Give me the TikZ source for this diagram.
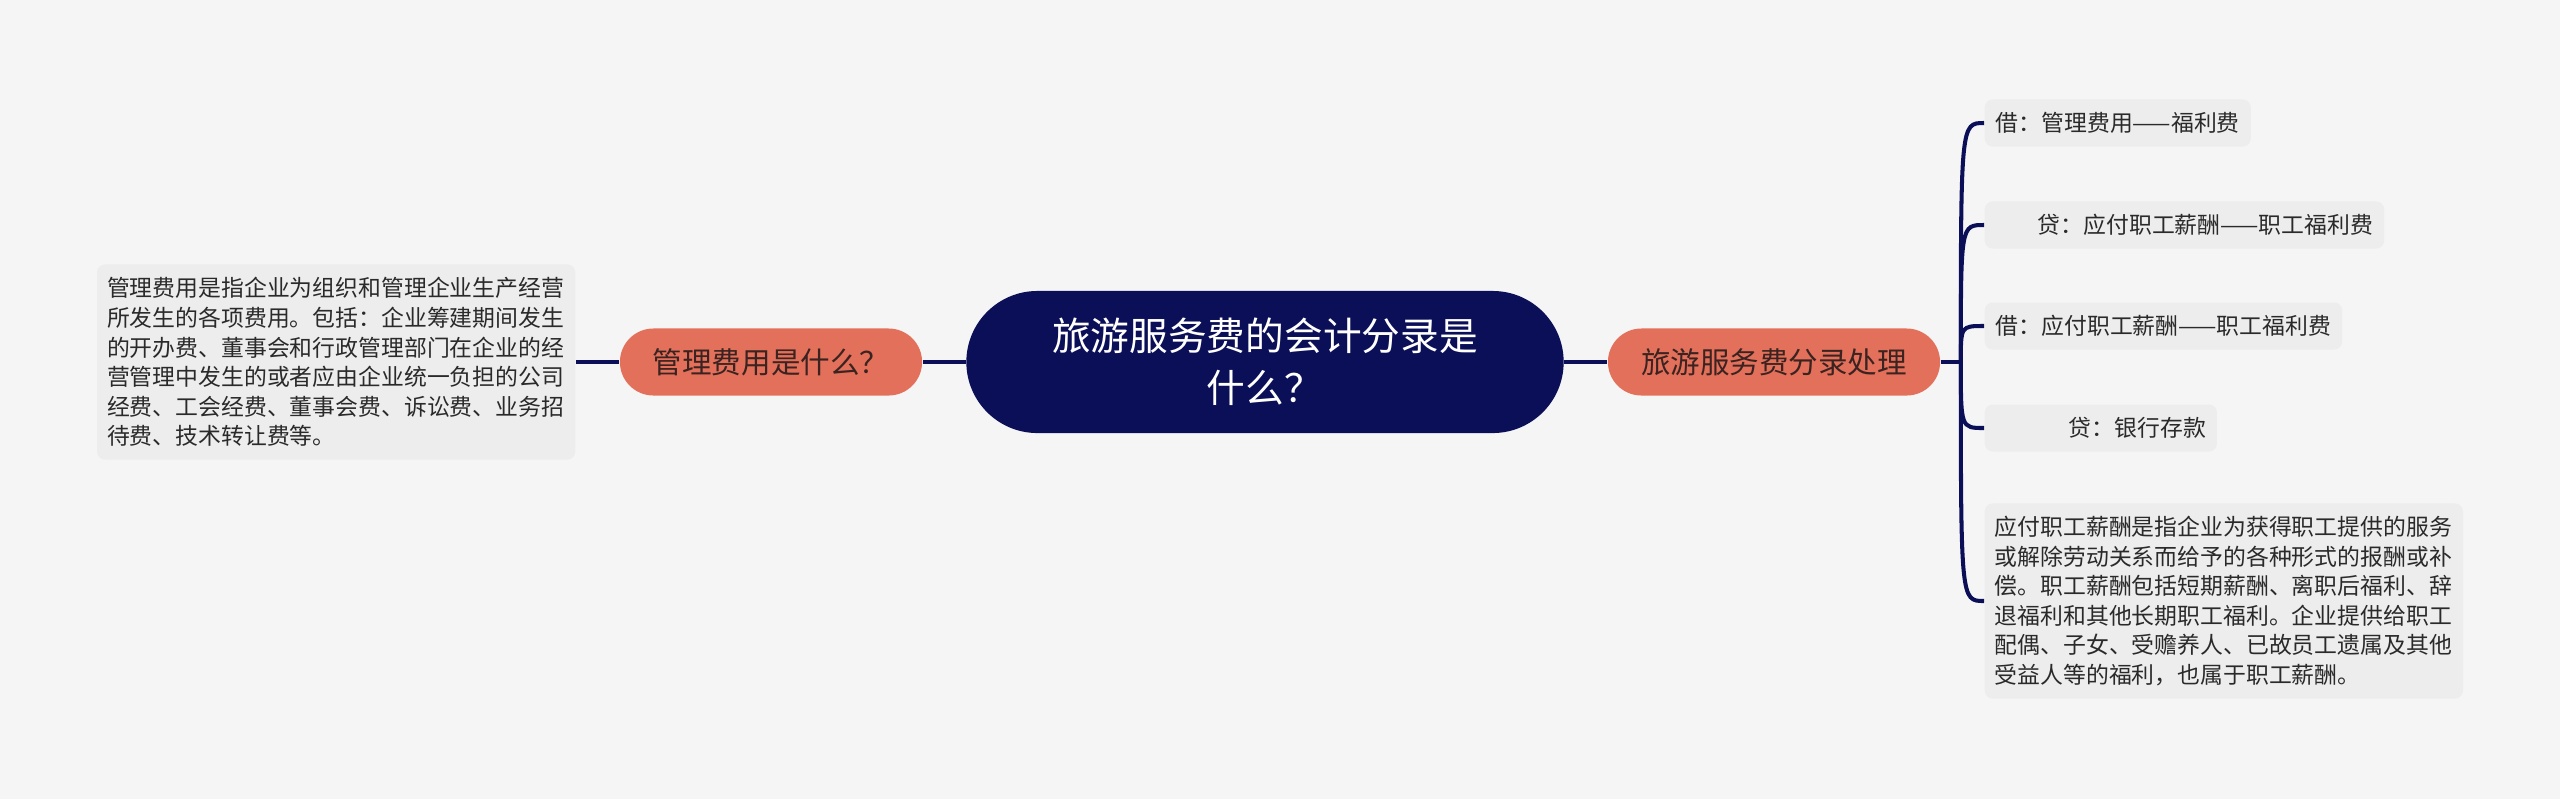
\documentclass[tikz,border=0pt]{standalone}
\usepackage{fontspec}
\setmainfont{Noto Sans CJK SC}
\usetikzlibrary{positioning,calc}
\definecolor{deepnavy}{HTML}{0A0F57}
\definecolor{salmon}{HTML}{E3705A}
\definecolor{paper}{HTML}{F5F5F5}
\definecolor{notegray}{HTML}{EDEDED}
\definecolor{inkgray}{HTML}{2A2A2A}
\definecolor{topicink}{HTML}{3A2320}
\tikzset{
  root/.style={fill=deepnavy,text=white,rounded corners=0.71cm,minimum width=5.97cm,minimum height=1.42cm,align=center,font=\fontsize{11pt}{14.9pt}\selectfont},
  topic/.style={fill=salmon,text=topicink,rounded corners=0.335cm,minimum height=0.67cm,font=\fontsize{8.4pt}{10pt}\selectfont},
  leaf/.style={fill=notegray,text=inkgray,rounded corners=0.08cm,inner xsep=0.11cm,minimum height=0.47cm,anchor=west,font=\fontsize{6.5pt}{8.4pt}\selectfont},
  note/.style={leaf,text width=4.58cm,inner xsep=0.1cm,minimum height=1.95cm,align=left},
  link/.style={draw=deepnavy,line width=1.15pt}
}
\begin{document}
\begin{tikzpicture}[x=0.01cm,y=-0.01cm]
\fill[paper] (0,0) rectangle (2560,799);
\useasboundingbox (0,0) rectangle (2560,799);
% centre and the two topics
\node[root] (root) at (1265,362) {旅游服务费的会计分录是\\什么？};
\node[topic,minimum width=3.02cm] (whatis) at (771,362) {管理费用是什么？};
\node[topic,minimum width=3.32cm] (entry) at (1774,362) {旅游服务费分录处理};
% left note
\node[note,anchor=east] (mgmtnote) at (576,362) {管理费用是指企业为组织和管理企业生产经营\\所发生的各项费用。包括：企业筹建期间发生\\的开办费、董事会和行政管理部门在企业的经\\营管理中发生的或者应由企业统一负担的公司\\经费、工会经费、董事会费、诉讼费、业务招\\待费、技术转让费等。};
% right leaves
\node[leaf] (dr1) at (1984,123) {借：管理费用——福利费};
\node[leaf] (cr1) at (1984,225) {\hspace*{0.42cm}贷：应付职工薪酬——职工福利费};
\node[leaf] (dr2) at (1984,326) {借：应付职工薪酬——职工福利费};
\node[leaf] (cr2) at (1984,428) {\hspace*{0.73cm}贷：银行存款};
\node[note] (paynote) at (1984,601) {应付职工薪酬是指企业为获得职工提供的服务\\或解除劳动关系而给予的各种形式的报酬或补\\偿。职工薪酬包括短期薪酬、离职后福利、辞\\退福利和其他长期职工福利。企业提供给职工\\配偶、子女、受赡养人、已故员工遗属及其他\\受益人等的福利，也属于职工薪酬。};
% connectors
\draw[link] (root.west) -- (whatis.east);
\draw[link] (whatis.west) -- (mgmtnote.east);
\draw[link] (root.east) -- (entry.west);
\coordinate (fork) at ($(entry.east)+(20,0)$);
\draw[link] (entry.east) -- (fork);
\foreach \c in {dr1,cr1,dr2,cr2,paynote}{\draw[link] (fork) .. controls (fork |- \c.west) .. (\c.west);}
\end{tikzpicture}
\end{document}
